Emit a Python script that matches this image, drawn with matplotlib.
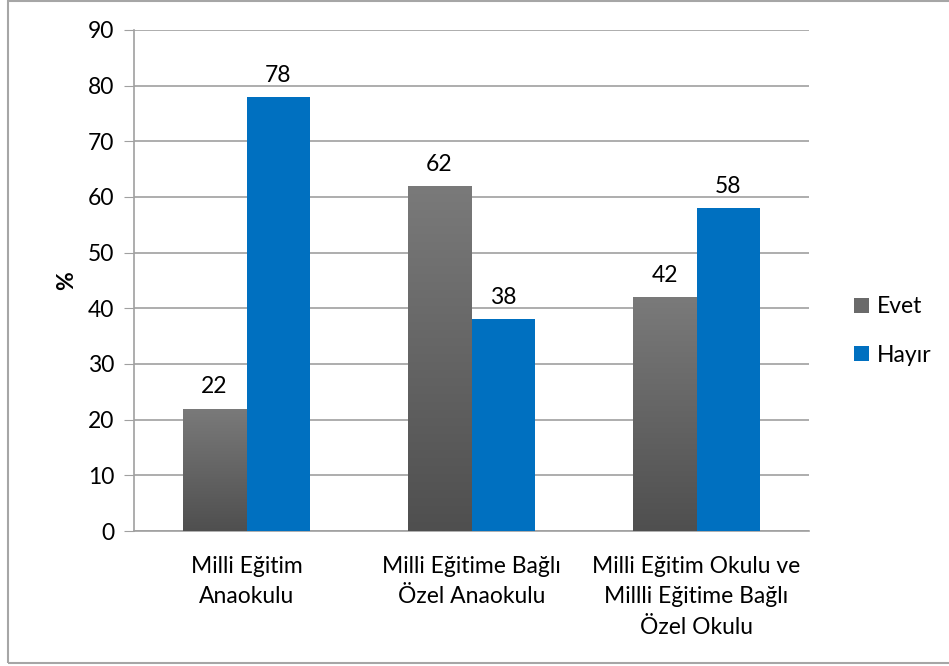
import matplotlib
matplotlib.use('Agg')
import matplotlib.pyplot as plt
import numpy as np
from matplotlib.patches import Rectangle

plt.rcParams['font.family'] = ['Lato', 'DejaVu Sans']

categories = ['Milli Eğitim\nAnaokulu',
              'Milli Eğitime Bağlı\nÖzel Anaokulu',
              'Milli Eğitim Okulu ve\nMillli Eğitime Bağlı\nÖzel Okulu']
evet = [22, 62, 42]
hayir = [78, 38, 58]
series_names = ['Evet', 'Hayır']
yticks = [0, 10, 20, 30, 40, 50, 60, 70, 80, 90]

fig = plt.figure(figsize=(9.49, 6.66), dpi=100)
ax = fig.add_axes([134 / 949, 135 / 666, 675 / 949, 501 / 666])

x = np.arange(len(categories))
w = 0.284

gray_bars = ax.bar(x - w / 2, evet, w, color='#6a6a6a', label=series_names[0], zorder=3)
blue_bars = ax.bar(x + w / 2, hayir, w, color='#0070c0', label=series_names[1], zorder=3)

# vertical gradient on the gray bars
grad = np.linspace(0, 1, 256).reshape(-1, 1)
cmap = matplotlib.colors.LinearSegmentedColormap.from_list('g', ['#4f4f4f', '#7a7a7a'])
for b in gray_bars:
    bx, by = b.get_x(), b.get_y()
    bw, bh = b.get_width(), b.get_height()
    im = ax.imshow(grad, cmap=cmap, aspect='auto', origin='lower',
                   extent=[bx, bx + bw, by, by + bh], zorder=3.5)
    im.set_clip_path(b)

for bars, vals in [(gray_bars, evet), (blue_bars, hayir)]:
    for b, v in zip(bars, vals):
        ax.text(b.get_x() + b.get_width() / 2, v + 2.0, str(v),
                ha='center', va='bottom', fontsize=16.5, color='black')

ax.set_xlim(-0.5, 2.5)
ax.set_ylim(0, 90)
ax.set_yticks(yticks)
ax.set_xticks(x)
ax.set_xticklabels(categories, fontsize=16.5, linespacing=1.55)
ax.tick_params(axis='y', labelsize=16.5, length=7, color='#a0a0a0', pad=7)
ax.tick_params(axis='x', length=0, pad=18)
ax.grid(axis='y', color='#a0a0a0', linewidth=1.2, zorder=0)
for s in ['top', 'right']:
    ax.spines[s].set_visible(False)
ax.spines['left'].set_color('#a0a0a0')
ax.spines['bottom'].set_color('#a0a0a0')
ax.spines['left'].set_linewidth(1.2)
ax.spines['bottom'].set_linewidth(1.2)
ax.set_ylabel('%', fontsize=16.5, fontweight='bold', labelpad=8)

fig.legend(handles=[gray_bars, blue_bars], labels=series_names,
           loc='center left', bbox_to_anchor=(833 / 949, 1 - 331 / 666),
           frameon=False, fontsize=16.5, handlelength=0.65, handleheight=0.65,
           labelspacing=1.2, handletextpad=0.35)

fig.patches.append(Rectangle((8 / 949, 3 / 666), 2.0, 1 - 4 / 666,
                             transform=fig.transFigure, fill=False,
                             edgecolor='#a6a6a6', linewidth=1.5))

fig.savefig('out.png', dpi=100)
